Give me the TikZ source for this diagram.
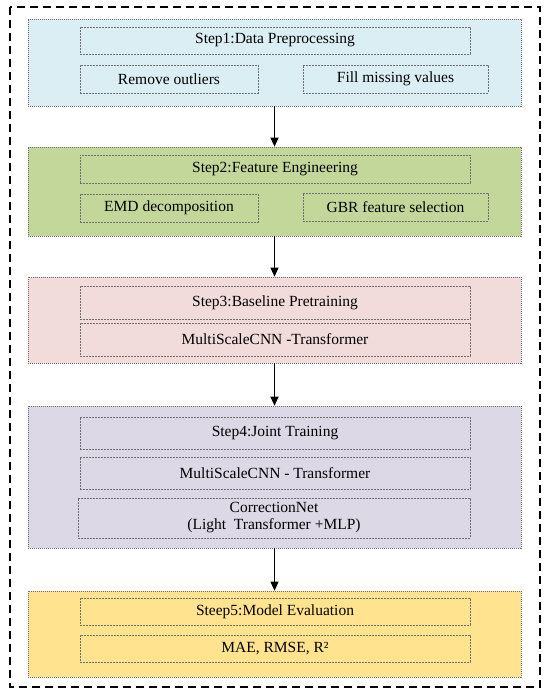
\documentclass[tikz,border=0pt]{standalone}
\usepackage{fontspec}
\setmainfont{Liberation Serif}
\usepackage{xcolor}
\usetikzlibrary{arrows.meta, positioning}

\definecolor{blueFill}{HTML}{DAEEF3}
\definecolor{greenFill}{HTML}{C4D79B}
\definecolor{pinkFill}{HTML}{F2DCDB}
\definecolor{purpleFill}{HTML}{DDD8E6}
\definecolor{yellowFill}{HTML}{FFE38F}
\definecolor{lineGray}{HTML}{6E6E6E}

\tikzset{
    panel/.style={draw=lineGray, dash pattern=on 1.2pt off 0.8pt, line width=0.6pt,
        minimum width=493pt, inner sep=0pt},
    item/.style={draw=lineGray, dash pattern=on 2pt off 1pt, line width=0.6pt,
        inner sep=0pt, align=center, font=\fontsize{15.5}{17}\selectfont},
    flow/.style={-{Triangle[length=9pt,width=8pt]}, line width=0.9pt}
}

\begin{document}
\begin{tikzpicture}[x=1pt, y=-1pt]
        \useasboundingbox (0,0) rectangle (550,696);
        \draw[line width=1.1pt, dash pattern=on 8pt off 5pt] (10,7) rectangle (540,687);

        % panels
        \node[panel, fill=blueFill, minimum height=87pt] (p1) at (274.5,62.5) {};
        \node[panel, fill=greenFill, minimum height=89pt] (p2) at (274.5,191.5) {};
        \node[panel, fill=pinkFill, minimum height=86pt] (p3) at (274.5,320) {};
        \node[panel, fill=purpleFill, minimum height=142pt] (p4) at (274.5,477) {};
        \node[panel, fill=yellowFill, minimum height=86pt] (p5) at (274.5,634) {};

        % step 1
        \node[item, minimum width=390pt, minimum height=27pt] (s1t) at (275,40.5) {Step1:Data Preprocessing};
        \node[item, minimum width=178pt, minimum height=28pt] (s1a) at (169,79) {Remove outliers};
        \node[item, minimum width=185pt, minimum height=28pt] (s1b) at (395.5,79) {Fill missing values};

        % step 2
        \node[item, minimum width=390pt, minimum height=28pt] (s2t) at (275,169) {Step2:Feature Engineering};
        \node[item, minimum width=178pt, minimum height=28pt] (s2a) at (169,208) {EMD decomposition};
        \node[item, minimum width=185pt, minimum height=28pt] (s2b) at (395.5,207) {GBR feature selection};

        % step 3
        \node[item, minimum width=390pt, minimum height=33pt] (s3t) at (275,302.5) {Step3:Baseline Pretraining};
        \node[item, minimum width=390pt, minimum height=33pt] (s3a) at (275,339.5) {MultiScaleCNN -Transformer};

        % step 4
        \node[item, minimum width=390pt, minimum height=32pt] (s4t) at (275,433) {Step4:Joint Training};
        \node[item, minimum width=390pt, minimum height=32pt] (s4a) at (275,473) {MultiScaleCNN - Transformer};
        \node[item, minimum width=392pt, minimum height=40pt] (s4b) at (274,518) {CorrectionNet\\(Light\ \ Transformer +MLP)};

        % step 5
        \node[item, minimum width=390pt, minimum height=27pt] (s5t) at (275,611.5) {Steep5:Model Evaluation};
        \node[item, minimum width=390pt, minimum height=27pt] (s5a) at (275,648.5) {MAE, RMSE, R²};

        \draw[flow] (p1.south) -- (p2.north);
        \draw[flow] (p2.south) -- (p3.north);
        \draw[flow] (p3.south) -- (p4.north);
        \draw[flow] (p4.south) -- (p5.north);

\end{tikzpicture}
\end{document}
